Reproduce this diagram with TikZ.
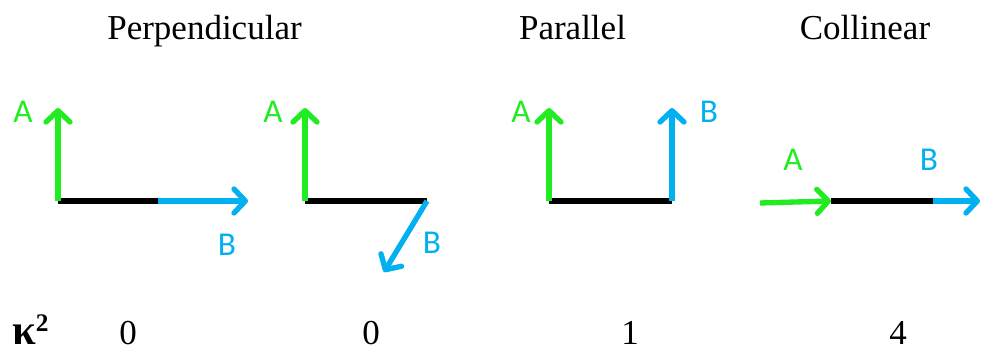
\documentclass[tikz,border=0pt]{standalone}
\usepackage{fontspec}
\setmainfont{Liberation Serif}
\newfontfamily\lblfont{Carlito}
\usetikzlibrary{arrows.meta}
\definecolor{vgreen}{RGB}{34,235,34}
\definecolor{vblue}{RGB}{0,176,240}
\begin{document}
\begin{tikzpicture}[x=0.75pt,y=-0.75pt,
  vec/.style={line width=4pt, -{Straight Barb[length=8.5pt,width=18pt,round]}},
  baseline/.style={line width=4pt, black},
  ttl/.style={font=\fontsize{26.25}{30}\selectfont, anchor=base, inner sep=0pt},
  lbl/.style={font=\lblfont\fontsize{25}{28}\selectfont, inner sep=0pt},
  val/.style={font=\fontsize{26.25}{30}\selectfont, anchor=base, inner sep=0pt, text depth=0pt}]
\useasboundingbox (0,0) rectangle (981,349);
% titles
\node[ttl] (t1) at (204.5,39.3) {Perpendicular};
\node[ttl] (t2) at (572.5,39.3) {Parallel};
\node[ttl] (t3) at (865,39.3) {Collinear};
% kappa row
\node[anchor=base west, inner sep=0pt, text depth=0pt] (k) at (12,344)
  {{\fontsize{32}{36}\selectfont\bfseries κ}\raisebox{9.5pt}{\fontsize{19}{22}\selectfont\bfseries 2}};
\node[val] (v0) at (128,344) {0};
\node[val] (v1) at (371,344) {0};
\node[val] (v2) at (630,344) {1};
\node[val] (v3) at (898,344) {4};
% panel 1
\coordinate (o1) at (58,201);
\coordinate (a1) at (58,108);
\coordinate (m1) at (158,201);
\coordinate (b1) at (248,201);
\draw[baseline] (o1) -- (m1);
\draw[vec,vgreen] (o1) -- (a1);
\draw[vec,vblue] (m1) -- (b1);
\node[lbl,text=vgreen] (la1) at (23,112) {A};
\node[lbl,text=vblue] (lb1) at (227,245) {B};
% panel 2
\coordinate (o2) at (305,201);
\coordinate (a2) at (305,108);
\coordinate (m2) at (427,201);
\coordinate (b2) at (384,272);
\draw[baseline] (o2) -- (m2);
\draw[vec,vgreen] (o2) -- (a2);
\draw[vec,vblue] (m2) -- (b2);
\node[lbl,text=vgreen] (la2) at (273,112) {A};
\node[lbl,text=vblue] (lb2) at (432,243) {B};
% panel 3
\coordinate (o3) at (549,201);
\coordinate (a3) at (549,108);
\coordinate (m3) at (672,201);
\coordinate (b3) at (672,108);
\draw[baseline] (o3) -- (m3);
\draw[vec,vgreen] (o3) -- (a3);
\draw[vec,vblue] (m3) -- (b3);
\node[lbl,text=vgreen] (la3) at (521,112) {A};
\node[lbl,text=vblue] (lb3) at (709,112) {B};
% panel 4
\coordinate (s4) at (760,203);
\coordinate (o4) at (831,201);
\coordinate (m4) at (933,201);
\coordinate (b4) at (980,201);
\draw[baseline] (o4) -- (m4);
\draw[vec,vgreen] (s4) -- (o4);
\draw[vec,vblue] (m4) -- (b4);
\node[lbl,text=vgreen] (la4) at (793,160) {A};
\node[lbl,text=vblue] (lb4) at (929,160) {B};
\end{tikzpicture}
\end{document}
